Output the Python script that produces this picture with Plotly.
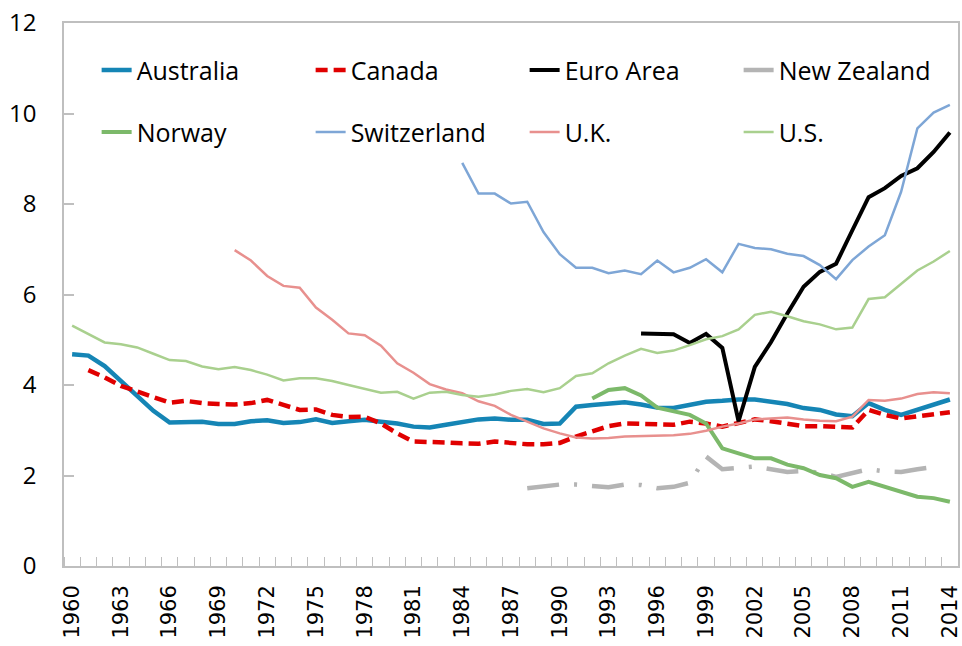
import plotly.graph_objects as go

years = list(range(1960, 2015))

australia = [4.68, 4.65, 4.42, 4.10, 3.77, 3.43, 3.17, 3.17, 3.19, 3.14,
             3.14, 3.20, 3.22, 3.16, 3.18, 3.24, 3.16, 3.20, 3.23, 3.19,
             3.15, 3.08, 3.06, 3.12, 3.17, 3.24, 3.26, 3.23, 3.23, 3.14,
             3.15, 3.52, 3.56, 3.60, 3.62, 3.57, 3.50, 3.49, 3.56, 3.63,
             3.65, 3.68, 3.68, 3.63, 3.58, 3.49, 3.45, 3.35, 3.31, 3.60,
             3.45, 3.34, 3.45, 3.56, 3.68]
canada = [None, 4.33, 4.17, 3.98, 3.85, 3.72, 3.61, 3.65, 3.60, 3.58,
          3.57, 3.60, 3.67, 3.56, 3.45, 3.46, 3.34, 3.29, 3.30, 3.15,
          2.93, 2.75, 2.75, 2.73, 2.71, 2.70, 2.75, 2.71, 2.69, 2.69,
          2.72, 2.86, 2.97, 3.09, 3.15, 3.14, 3.12, 3.12, 3.19, 3.15,
          3.08, 3.17, 3.24, 3.20, 3.15, 3.09, 3.09, 3.08, 3.06, 3.45,
          3.34, 3.26, 3.30, 3.35, 3.40]
euro_area = [None] * 35 + [5.14, 5.12, 5.12, 4.93, 5.13,
                           4.82, 3.20, 4.40, 4.95, 5.58, 6.17, 6.50, 6.68, 7.42, 8.15,
                           8.35, 8.62, 8.79, 9.15, 9.58]
new_zealand = [None] * 28 + [1.72, 1.76,
                             1.80, 1.80, 1.77, 1.74, 1.80, 1.79, 1.72, 1.75, 1.84, 2.42,
                             2.14, 2.16, 2.20, 2.14, 2.08, 2.10, 2.06, 1.97, 2.05, 2.14,
                             2.09, 2.08, 2.14, 2.19, None]
norway = [None] * 32 + [3.70, 3.89, 3.93, 3.77, 3.50, 3.43, 3.34, 3.15,
                        2.60, 2.49, 2.38, 2.38, 2.24, 2.16, 2.01, 1.94, 1.75, 1.86,
                        1.75, 1.64, 1.53, 1.50, 1.42]
switzerland = [None] * 24 + [8.91, 8.23, 8.23, 8.01, 8.05, 7.38,
                             6.89, 6.59, 6.59, 6.47, 6.53, 6.45, 6.75, 6.49, 6.59, 6.78,
                             6.49, 7.12, 7.03, 7.00, 6.90, 6.85, 6.65, 6.34, 6.76, 7.06,
                             7.31, 8.27, 9.67, 10.02, 10.19]
uk = [None] * 10 + [6.98, 6.75, 6.41, 6.19, 6.15, 5.71, 5.44, 5.14, 5.10, 4.87,
                    4.48, 4.27, 4.02, 3.90, 3.82, 3.64, 3.54, 3.34, 3.19, 3.04,
                    2.93, 2.84, 2.82, 2.83, 2.86, 2.87, 2.87, 2.89, 2.92, 2.99,
                    3.08, 3.15, 3.24, 3.26, 3.28, 3.24, 3.21, 3.20, 3.30, 3.67,
                    3.65, 3.70, 3.80, 3.84, 3.82]
us = [5.31, 5.12, 4.94, 4.90, 4.83, 4.69, 4.55, 4.53, 4.41, 4.35,
      4.40, 4.33, 4.23, 4.10, 4.15, 4.15, 4.09, 4.00, 3.91, 3.83,
      3.85, 3.70, 3.83, 3.85, 3.78, 3.74, 3.79, 3.87, 3.91, 3.84,
      3.93, 4.20, 4.26, 4.48, 4.65, 4.80, 4.71, 4.76, 4.88, 5.01,
      5.08, 5.23, 5.55, 5.62, 5.52, 5.41, 5.34, 5.23, 5.27, 5.90,
      5.94, 6.23, 6.53, 6.73, 6.96]

tick_years = list(range(1960, 2015, 3))
tick_labels = [str(y) for y in tick_years]
y_ticks = [0, 2, 4, 6, 8, 10, 12]

series = [
    ("Australia", australia, "#1585B5", 4.5, "solid", "legend"),
    ("Canada", canada, "#E00000", 4.5, "12px,6px", "legend"),
    ("Euro Area", euro_area, "#000000", 4, "solid", "legend"),
    ("New Zealand", new_zealand, "#B4B4B4", 4.5, "32px,15px,3px,15px", "legend"),
    ("Norway", norway, "#7CB96A", 4, "solid", "legend2"),
    ("Switzerland", switzerland, "#7EA6D6", 2.5, "solid", "legend2"),
    ("U.K.", uk, "#E8908E", 2.5, "solid", "legend2"),
    ("U.S.", us, "#A9D08E", 2.5, "solid", "legend2"),
]

fig = go.Figure()
for name, vals, color, width, dash, leg in series:
    fig.add_trace(go.Scatter(
        x=years, y=vals, name=name, mode="lines",
        line=dict(color=color, width=width, dash=dash),
        connectgaps=False, legend=leg,
    ))

legend_common = dict(
    orientation="h", xanchor="left", yanchor="middle",
    font=dict(family="Open Sans", size=25, color="#000000"),
    bgcolor="rgba(0,0,0,0)", borderwidth=0,
    entrywidth=169, entrywidthmode="pixels",
    itemclick=False, itemdoubleclick=False,
)

fig.update_layout(
    width=962, height=646,
    margin=dict(l=64, r=4, t=23, b=80, autoexpand=False),
    paper_bgcolor="white", plot_bgcolor="white",
    showlegend=True,
    legend=dict(x=0.0365, y=0.913, **legend_common),
    legend2=dict(x=0.0365, y=0.799, **legend_common),
    xaxis=dict(
        range=[1959.5, 2014.5], automargin=False,
        tickmode="array", tickvals=tick_years, ticktext=tick_labels,
        tickangle=-90, ticks="",
        tickfont=dict(family="DejaVu Sans", size=21, color="#000000"),
        ticklabelstandoff=9,
        showgrid=False, zeroline=False,
        showline=True, linecolor="#BFBFBF", linewidth=1.5, mirror=True,
        minor=dict(ticks="inside", ticklen=9, tickcolor="#BFBFBF",
                   tick0=1959.5, dtick=1, showgrid=False),
    ),
    yaxis=dict(
        range=[0, 12], tickmode="array", tickvals=y_ticks, automargin=False,
        ticks="inside", ticklen=10, tickcolor="#BFBFBF", tickwidth=1.5,
        tickfont=dict(family="Open Sans", size=24, color="#000000"),
        ticklabelstandoff=21,
        showgrid=False, zeroline=False,
        showline=True, linecolor="#BFBFBF", linewidth=1.5, mirror=True,
    ),
)

fig.write_html(
    "out.html",
    config={"displayModeBar": False},
    post_script="document.body.style.margin='0';document.body.style.overflow='hidden';",
)
